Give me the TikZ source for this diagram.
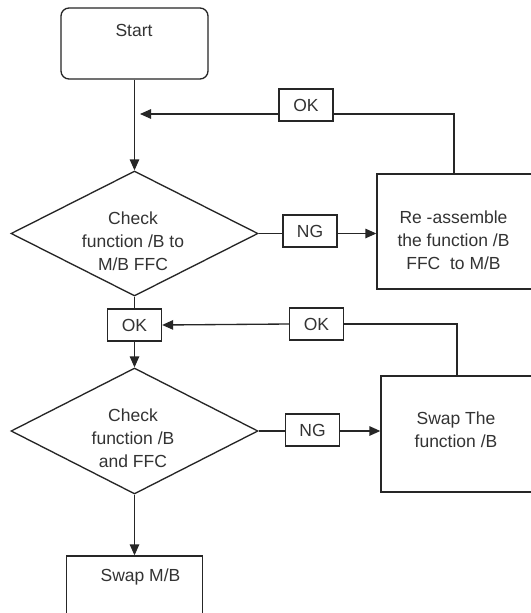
\documentclass[tikz,border=0pt]{standalone}
\usepackage{fontspec}
\setmainfont{Liberation Sans}
\usetikzlibrary{arrows.meta,shapes.geometric}
\tikzset{
  line/.style={draw=black!85,line width=0.8pt},
  txt/.style={align=center,text=black!80,inner sep=0pt,font=\fontsize{10.5}{13.8}\selectfont},
  tag/.style={line,rectangle,minimum width=32.4pt,minimum height=19.2pt,inner sep=0pt,
    text=black!80,font=\fontsize{10.5}{13.8}\selectfont},
  decide/.style={line,diamond,inner sep=0pt,minimum width=148.2pt},
  work/.style={line,rectangle,inner sep=0pt},
}
\begin{document}
\begin{tikzpicture}[x=0.6pt,y=-0.6pt,>={Triangle[length=6.6pt,width=5.7pt]}]
  \path[use as bounding box,fill=white] (0,0) rectangle (530,613);
  \node[work,rounded corners=4.8pt,minimum width=88.2pt,minimum height=42.6pt] (start) at (134.5,43.5) {};
  \node[txt] (starttxt) at (134,30) {Start};
  \node[decide,minimum height=75pt] (chk1) at (134.5,233.5) {};
  \node[txt] (chk1txt) at (133,241.5) {Check\\function /B to\\M/B FFC};
  \node[work,minimum width=121.8pt,minimum height=69pt] (fix1) at (478.5,231.5) {};
  \node[txt] (fix1txt) at (453.5,240.5) {Re -assemble\\the function /B\\FFC\ \ to M/B};
  \node[tag] (ok1) at (306,105) {OK};
  \node[tag] (ng1) at (310,231) {NG};
  \coordinate (tip1) at (140,114);
  \coordinate (rise1) at (454,0);
  \node[tag] (ok2) at (134.5,325) {OK};
  \node[tag] (ok3) at (316.5,324) {OK};
  \node[decide,minimum height=75.6pt] (chk2) at (134.5,431) {};
  \node[txt] (chk2txt) at (133,438) {Check\\function /B\\and FFC};
  \node[work,minimum width=119.4pt,minimum height=69.6pt] (fix2) at (480.5,434) {};
  \node[txt] (fix2txt) at (456,429.5) {Swap The\\function /B};
  \coordinate (rise2) at (457,0);
  \node[tag] (ng2) at (312.5,430) {NG};
  \node[work,minimum width=81.6pt,minimum height=60pt] (swap) at (134.5,606) {};
  \node[txt] (swaptxt) at (140.5,576.5) {Swap M/B};

  \draw[line,->] (start.south) -- (chk1.north);
  \draw[line] (fix1.north -| rise1) |- (ok1.east |- tip1);
  \draw[line,->] (ok1.west |- tip1) -- (tip1);
  \draw[line] (chk1.east) -- (chk1.east -| ng1.west);
  \draw[line,->] (ng1.east |- chk1.east) -- (chk1.east -| fix1.west);
  \draw[line] (chk1.south) -- (ok2.north);
  \draw[line,->] (ok2.south) -- (chk2.north);
  \draw[line] (fix2.north -| rise2) |- (ok3.east);
  \draw[line,->] (ok3.west) -- (ok2.east);
  \draw[line] (chk2.east) -- (chk2.east -| ng2.west);
  \draw[line,->] (ng2.east |- chk2.east) -- (chk2.east -| fix2.west);
  \draw[line,->] (chk2.south) -- (swap.north);
\end{tikzpicture}
\end{document}
